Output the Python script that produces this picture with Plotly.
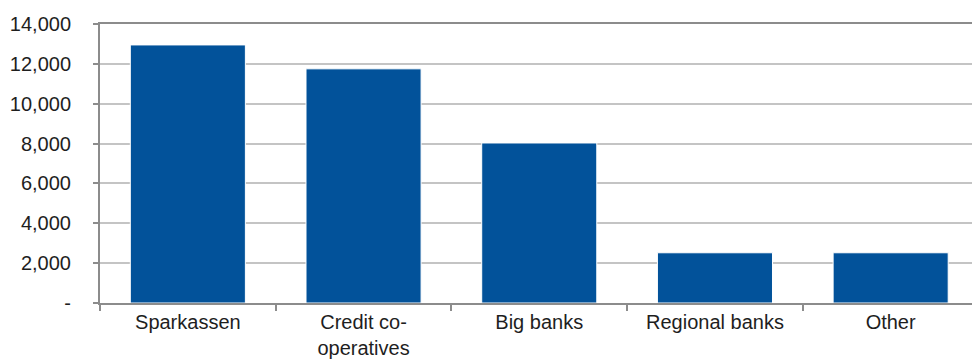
import plotly.graph_objects as go

# Number of institutions by banking group
categories = ["Sparkassen", "Credit co-operatives", "Big banks", "Regional banks", "Other"]
category_labels = ["Sparkassen", "Credit co-<br>operatives", "Big banks", "Regional banks", "Other"]
values = [12950, 11750, 8030, 2520, 2520]

y_tick_values = [0, 2000, 4000, 6000, 8000, 10000, 12000, 14000]
y_tick_labels = ["-", "2,000", "4,000", "6,000", "8,000", "10,000", "12,000", "14,000"]

BAR_COLOR = "#02529A"
AXIS_COLOR = "#8c8c8c"
GRID_COLOR = "#c4c4c4"
TEXT_COLOR = "#1e1e1e"
FONT = "Liberation Sans"

fig = go.Figure(
    go.Bar(
        x=categories,
        y=values,
        marker=dict(color=BAR_COLOR, line=dict(color="#ffffff", width=1)),
        hoverinfo="skip",
    )
)

fig.update_layout(
    width=972,
    height=359,
    margin=dict(l=100, r=0, t=24, b=56),
    paper_bgcolor="#ffffff",
    plot_bgcolor="#ffffff",
    bargap=0.345,
    showlegend=False,
    font=dict(family=FONT, size=20, color=TEXT_COLOR),
)

# The last category runs slightly past the right edge of the figure
fig.update_xaxes(
    range=[-0.5, 4.463],
    tickmode="array",
    tickvals=categories,
    ticktext=category_labels,
    tickson="boundaries",
    ticks="outside",
    ticklen=6,
    tickwidth=2,
    tickcolor=AXIS_COLOR,
    showline=True,
    linecolor=AXIS_COLOR,
    linewidth=2,
    mirror=True,
    showgrid=False,
    tickfont=dict(family=FONT, size=20, color=TEXT_COLOR),
)

fig.update_yaxes(
    range=[0, 14000],
    tickmode="array",
    tickvals=y_tick_values,
    ticktext=y_tick_labels,
    ticks="outside",
    ticklen=5,
    tickwidth=2,
    tickcolor=AXIS_COLOR,
    showline=True,
    linecolor=AXIS_COLOR,
    linewidth=2,
    showgrid=True,
    gridcolor=GRID_COLOR,
    gridwidth=2,
    zeroline=False,
    ticklabelstandoff=18,
    tickfont=dict(family=FONT, size=20, color=TEXT_COLOR),
)

fig.write_html("out.html")
